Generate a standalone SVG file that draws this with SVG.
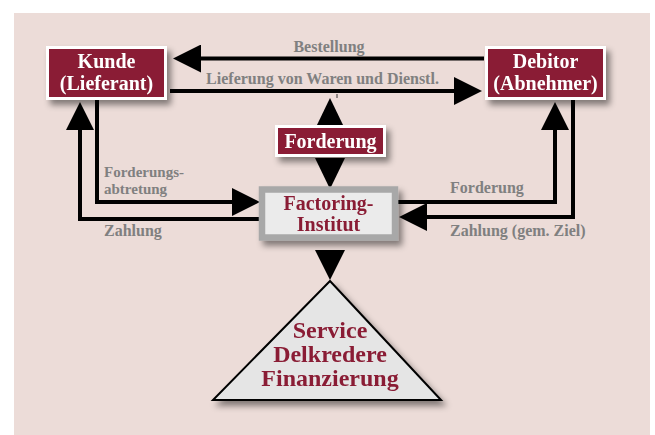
<svg xmlns="http://www.w3.org/2000/svg" width="655" height="435" viewBox="0 0 655 435">
<defs>
<style>
.lbl{font-family:"Liberation Serif","Times New Roman",serif;font-weight:bold;font-size:16px;fill:#808080}
.wt{font-family:"Liberation Serif","Times New Roman",serif;font-weight:bold;font-size:20px;fill:#ffffff;text-anchor:middle}
.rt{font-family:"Liberation Serif","Times New Roman",serif;font-weight:bold;font-size:20px;fill:#8a1f36;text-anchor:middle}
.bt{font-family:"Liberation Serif","Times New Roman",serif;font-weight:bold;font-size:24px;fill:#8a1f36;text-anchor:middle}
.red{fill:#8a1f36;stroke:#ffffff;stroke-width:3}
.con{fill:none;stroke:#000;stroke-width:4;stroke-linejoin:miter}
</style>
<filter id="sh" x="-20%" y="-20%" width="150%" height="160%">
<feDropShadow dx="4" dy="5" stdDeviation="3" flood-color="#000" flood-opacity="0.45"/>
</filter>
<marker id="ah" markerUnits="userSpaceOnUse" markerWidth="28" markerHeight="28" refX="18" refY="14" orient="auto">
<path d="M0,0 L28,14 L0,28 z" fill="#000"/>
</marker>
</defs>
<rect x="0" y="0" width="655" height="435" fill="#ffffff"/>
<rect x="14" y="13" width="636" height="422" fill="#ecdcd8"/>

<g id="connectors">
<path class="con" d="M484,58.5 H183" marker-end="url(#ah)"/>
<path class="con" d="M170,91 H472" marker-end="url(#ah)"/>
<path class="con" d="M259,219 H80 V112" marker-end="url(#ah)"/>
<path class="con" d="M97,100 V202 H250" marker-end="url(#ah)"/>
<path class="con" d="M398,202 H555 V112" marker-end="url(#ah)"/>
<path class="con" d="M573,100 V217 H409" marker-end="url(#ah)"/>
<polygon points="330,98 316,127 344,127" fill="#000"/>
<polygon points="315,158 345,158 330,189" fill="#000"/>
<polygon points="315,250 345,250 330,280" fill="#000"/>
<line x1="337" y1="94" x2="337" y2="98" stroke="#333" stroke-width="1"/>
</g>

<g id="labels">
<text class="lbl" x="329" y="52" text-anchor="middle">Bestellung</text>
<text class="lbl" x="322.5" y="84" text-anchor="middle">Lieferung von Waren und Dienstl.</text>
<text class="lbl" x="104" y="176.5" style="font-size:15px">Forderungs-</text>
<text class="lbl" x="104" y="194" style="font-size:15px">abtretung</text>
<text class="lbl" x="104" y="236">Zahlung</text>
<text class="lbl" x="450" y="193">Forderung</text>
<text class="lbl" x="450" y="236">Zahlung (gem. Ziel)</text>
</g>

<g id="kunde" filter="url(#sh)">
<rect class="red" x="47.5" y="47.5" width="118" height="51"/>
<text class="wt" x="106.5" y="67.5">Kunde</text>
<text class="wt" x="106.5" y="89.5">(Lieferant)</text>
</g>

<g id="debitor" filter="url(#sh)">
<rect class="red" x="486.5" y="47.5" width="118" height="51"/>
<text class="wt" x="545.5" y="67.5">Debitor</text>
<text class="wt" x="545.5" y="89.5">(Abnehmer)</text>
</g>

<g id="forderung" filter="url(#sh)">
<rect class="red" x="276.5" y="126.5" width="108" height="29"/>
<text class="wt" x="330.5" y="148">Forderung</text>
</g>

<g id="factoring" filter="url(#sh)">
<rect x="262" y="189.5" width="133" height="48" fill="#ebebeb" stroke="#a8a8a8" stroke-width="6.5"/>
<text class="rt" x="328.5" y="210">Factoring-</text>
<text class="rt" x="328.5" y="231">Institut</text>
</g>

<g id="leistungen" filter="url(#sh)">
<polygon points="330,281 213,400 441,400" fill="#e5e5e5" stroke="#000" stroke-width="2"/>
<text class="bt" x="330" y="338">Service</text>
<text class="bt" x="330" y="362">Delkredere</text>
<text class="bt" x="330" y="386">Finanzierung</text>
</g>
</svg>
